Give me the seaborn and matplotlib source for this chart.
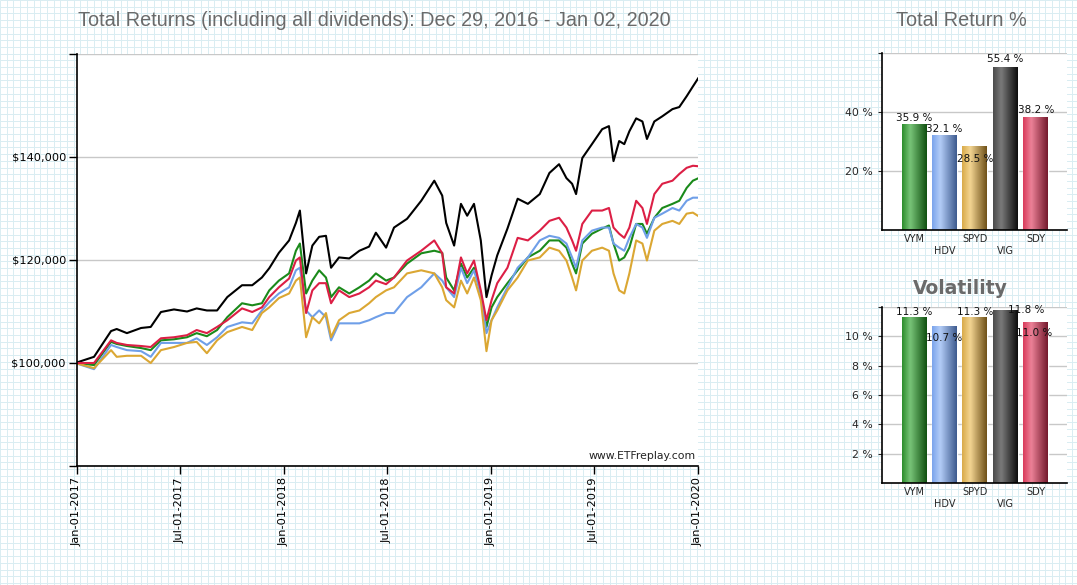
import numpy as np
import pandas as pd
import matplotlib
matplotlib.use("Agg")
import matplotlib.pyplot as plt
from matplotlib.colors import LinearSegmentedColormap, to_rgb
from matplotlib.patches import Rectangle
import seaborn as sns

# ---- data ----
tickers = ["VYM", "HDV", "SPYD", "VIG", "SDY"]

dates = [
    "2016-12-29", "2017-01-31", "2017-03-02", "2017-03-12", "2017-03-30", "2017-04-24",
    "2017-05-11", "2017-05-29", "2017-06-21", "2017-07-14", "2017-07-31", "2017-08-18",
    "2017-09-05", "2017-09-23", "2017-10-19", "2017-11-06", "2017-11-23", "2017-12-06",
    "2017-12-23", "2018-01-10", "2018-01-22", "2018-01-29", "2018-02-09", "2018-02-20",
    "2018-03-04", "2018-03-16", "2018-03-25", "2018-04-08", "2018-04-26", "2018-05-14",
    "2018-05-31", "2018-06-12", "2018-06-30", "2018-07-14", "2018-08-06", "2018-08-31",
    "2018-09-23", "2018-10-07", "2018-10-14", "2018-10-28", "2018-11-09", "2018-11-20",
    "2018-12-02", "2018-12-14", "2018-12-24", "2019-01-02", "2019-01-12", "2019-01-30",
    "2019-02-17", "2019-03-07", "2019-03-28", "2019-04-14", "2019-05-01", "2019-05-14",
    "2019-05-24", "2019-05-31", "2019-06-11", "2019-06-28", "2019-07-16", "2019-07-28",
    "2019-08-05", "2019-08-15", "2019-08-24", "2019-09-02", "2019-09-14", "2019-09-25",
    "2019-10-03", "2019-10-16", "2019-10-30", "2019-11-17", "2019-11-29", "2019-12-12",
    "2019-12-23", "2020-01-02",
]

# portfolio value in $ thousands
vym = [
    100.0, 99.6, 104.1, 103.7, 103.3, 102.9, 102.5, 104.4, 104.6, 105.0, 105.8, 105.2,
    106.4, 108.9, 111.6, 111.2, 111.6, 114.1, 116.0, 117.4, 121.8, 123.2, 113.5, 116.0,
    118.0, 116.6, 112.8, 114.7, 113.5, 114.7, 116.0, 117.4, 116.0, 116.6, 119.3, 121.3,
    121.8, 121.4, 116.6, 114.1, 119.3, 116.6, 118.5, 113.5, 107.0, 110.8, 112.8, 115.5,
    118.0, 120.5, 121.8, 123.8, 123.8, 122.4, 119.3, 117.4, 123.2, 125.1, 126.1, 126.7,
    123.2, 119.9, 120.5, 122.4, 127.0, 127.0, 125.1, 128.2, 130.1, 130.9, 131.5, 134.0,
    135.4, 135.9,
]
hdv = [
    100.0, 98.8, 103.5, 103.1, 102.5, 102.3, 101.2, 103.9, 103.9, 103.9, 104.8, 103.5,
    105.0, 107.0, 107.9, 107.7, 110.2, 111.8, 113.5, 114.7, 118.0, 118.5, 110.2, 108.9,
    110.2, 108.9, 104.4, 107.7, 107.7, 107.7, 108.3, 108.9, 109.7, 109.7, 112.8, 114.7,
    117.4, 116.0, 114.7, 112.8, 118.5, 115.5, 118.0, 113.5, 105.8, 108.3, 110.8, 114.7,
    118.5, 120.5, 123.8, 124.7, 124.3, 123.2, 120.5, 118.5, 123.8, 125.7, 126.3, 126.3,
    123.2, 122.4, 121.8, 124.3, 127.0, 126.3, 124.3, 128.2, 129.0, 130.1, 129.6, 131.5,
    132.1, 132.1,
]
spyd = [
    100.0, 99.0, 102.5, 101.2, 101.4, 101.4, 100.0, 102.5, 103.1, 103.9, 104.1, 101.9,
    104.4, 106.0, 107.0, 106.4, 109.7, 110.8, 112.6, 113.5, 116.0, 116.6, 105.0, 108.9,
    107.7, 109.7, 105.0, 108.3, 109.7, 110.2, 111.6, 112.8, 114.1, 114.7, 117.4, 118.0,
    117.4, 114.7, 112.2, 110.8, 116.0, 113.5, 116.6, 112.2, 102.3, 108.3, 110.2, 114.1,
    116.6, 119.9, 120.5, 122.4, 121.8, 119.9, 116.6, 114.1, 119.9, 121.8, 122.4, 121.8,
    117.4, 114.1, 113.5, 117.4, 123.8, 123.2, 119.9, 125.7, 127.0, 127.6, 127.0, 129.0,
    129.2, 128.5,
]
vig = [
    100.0, 101.2, 106.2, 106.6, 105.8, 106.8, 107.0, 109.9, 110.4, 110.0, 110.6, 110.2,
    110.2, 112.8, 115.1, 115.1, 116.6, 118.4, 121.4, 123.8, 127.2, 129.6, 117.4, 122.8,
    124.5, 124.7, 118.5, 120.5, 120.3, 121.8, 122.6, 125.3, 122.4, 126.3, 128.0, 131.5,
    135.4, 132.5, 127.2, 122.8, 130.9, 128.6, 130.9, 123.8, 112.8, 117.0, 120.9, 126.1,
    131.9, 130.9, 132.8, 136.9, 138.6, 135.9, 134.8, 132.8, 139.8, 142.5, 145.4, 146.0,
    139.2, 143.1, 142.5, 145.0, 147.5, 146.9, 143.5, 146.9, 147.9, 149.3, 149.7, 151.8,
    153.7, 155.4,
]
sdy = [
    100.0, 100.0, 104.4, 103.9, 103.5, 103.3, 103.1, 104.8, 105.0, 105.4, 106.4, 105.8,
    107.0, 108.3, 110.6, 109.9, 110.8, 112.8, 114.7, 116.4, 119.9, 120.5, 109.7, 114.1,
    115.5, 115.5, 111.6, 114.1, 112.8, 113.5, 114.7, 116.0, 115.3, 116.6, 119.9, 121.8,
    123.8, 121.3, 114.7, 113.5, 120.5, 117.4, 119.9, 114.1, 108.3, 112.2, 115.5, 118.5,
    124.3, 123.8, 125.7, 127.6, 128.2, 126.3, 123.8, 121.8, 127.0, 129.6, 129.6, 130.1,
    126.3, 125.1, 124.3, 126.3, 131.5, 130.1, 127.0, 132.8, 134.8, 135.4, 136.7, 137.9,
    138.3, 138.2,
]

total_return = [35.9, 32.1, 28.5, 55.4, 38.2]
volatility = [11.3, 10.7, 11.3, 11.8, 11.0]

date_ticks = ["2017-01-01", "2017-07-01", "2018-01-01", "2018-07-01",
              "2019-01-01", "2019-07-01", "2020-01-01"]

# ---- styling ----
sns.set_style("white")
plt.rcParams["font.family"] = ["DejaVu Sans"]

line_colors = {"VYM": "#1a8a1a", "HDV": "#6f9fe8", "SPYD": "#dba733",
               "VIG": "#000000", "SDY": "#dc1f45"}
# (dark-left, highlight, dark-right) for the cylinder look of the bars
bar_shades = {
    "VYM": ("#2b8c2b", "#78c478", "#105010"),
    "HDV": ("#7aa3ec", "#b3cdf7", "#3d5a8e"),
    "SPYD": ("#d9aa48", "#f3d592", "#6e5018"),
    "VIG": ("#4a4a4a", "#7a7a7a", "#0c0c0c"),
    "SDY": ("#d93a5a", "#ec8298", "#74192c"),
}
title_gray = "#6a6a6a"
title_fonts = ["Liberation Sans", "DejaVu Sans"]

W, H = 1077, 585
fig = plt.figure(figsize=(W / 100, H / 100), dpi=100)


def fx(px):
    return px / W


def fy(px):
    return 1 - px / H


# graph-paper background
bg = fig.add_axes([0, 0, 1, 1], zorder=-10)
bg.set_xlim(0, W)
bg.set_ylim(H, 0)
bg.axis("off")
cell = 6.7
bg.vlines(np.arange(0, W, cell), 0, H, color="#d9edf2", lw=0.7)
bg.hlines(np.arange(0, H, cell), 0, W, color="#d9edf2", lw=0.7)
bg.add_patch(Rectangle((0, 42), 747, 530, facecolor="white", edgecolor="none"))
bg.add_patch(Rectangle((843, 42), 229, 500, facecolor="white", edgecolor="none"))

# ---- main line chart ----
df = pd.DataFrame({"Date": pd.to_datetime(dates)})
for t, vals in zip(tickers, [vym, hdv, spyd, vig, sdy]):
    df[t] = np.array(vals) * 1000
long = df.melt(id_vars="Date", var_name="Ticker", value_name="Value")

ax = fig.add_axes([fx(77), fy(466), fx(621), 412 / H])
sns.lineplot(data=long, x="Date", y="Value", hue="Ticker", hue_order=tickers,
             palette=line_colors, linewidth=1.5, legend=False, ax=ax)
ax.set_xlim(pd.Timestamp("2017-01-01"), pd.Timestamp("2020-01-01"))
ax.set_ylim(80000, 160000)
ax.set_yticks([80000, 100000, 120000, 140000, 160000])
ax.set_yticklabels(["", "$100,000", "$120,000", "$140,000", ""])
ax.yaxis.grid(True, color="#c8c8c8", lw=1)
ax.xaxis.grid(False)
tick_dates = pd.to_datetime(date_ticks)
ax.set_xticks(tick_dates)
ax.set_xticklabels([d.strftime("%b-%d-%Y") for d in tick_dates], rotation=90)
ax.tick_params(axis="both", direction="out", length=6, width=1, color="black",
               labelsize=8.2, colors="black", left=True, bottom=True, pad=2)
for s in ["top", "right"]:
    ax.spines[s].set_visible(False)
for s in ["left", "bottom"]:
    ax.spines[s].set_color("black")
    ax.spines[s].set_linewidth(1.2)
ax.set_xlabel("")
ax.set_ylabel("")
ax.set_facecolor("white")
ax.text(0.997, 0.012, "www.ETFreplay.com", transform=ax.transAxes, ha="right",
        va="bottom", fontsize=7.8, color="#222222")

fig.text(fx(374), fy(20), "Total Returns (including all dividends): Dec 29, 2016 - Jan 02, 2020",
         ha="center", va="center", fontsize=14.3, color=title_gray, family=title_fonts)
fig.text(fx(961), fy(20), "Total Return %", ha="center", va="center", fontsize=14.3,
         color=title_gray, family=title_fonts)
fig.text(fx(960), fy(289), "Volatility", ha="center", va="center", fontsize=13.5,
         fontweight="bold", color=title_gray)


def shade_bars(bax, top):
    for patch, t in zip(bax.patches, tickers):
        x0, y0 = patch.get_x(), patch.get_y()
        w, h = patch.get_width(), patch.get_height()
        dark, light, deep = bar_shades[t]
        cmap = LinearSegmentedColormap.from_list(
            t, [(0, to_rgb(dark)), (0.33, to_rgb(light)), (1, to_rgb(deep))])
        grad = np.linspace(0, 1, 128).reshape(1, -1)
        im = bax.imshow(grad, cmap=cmap, aspect="auto", extent=[x0, x0 + w, y0, y0 + h],
                        zorder=patch.get_zorder() + 0.1, interpolation="bicubic")
        im.set_clip_path(patch)
    bax.set_xlim(-1.05, 5.02)
    bax.set_ylim(0, top)


def bar_panel(rect, values, top, yticks, ylabels, offsets):
    bax = fig.add_axes(rect)
    sns.barplot(x=tickers, y=values, hue=tickers, palette=line_colors, width=0.82,
                legend=False, ax=bax, saturation=1)
    shade_bars(bax, top)
    bax.set_yticks(yticks)
    bax.set_yticklabels(ylabels)
    bax.yaxis.grid(True, color="#c8c8c8", lw=1)
    bax.set_axisbelow(True)
    bax.set_xticks(range(len(tickers)))
    bax.set_xticklabels([t if i % 2 == 0 else "\n" + t for i, t in enumerate(tickers)])
    bax.tick_params(axis="x", length=0, labelsize=7, pad=3)
    bax.tick_params(axis="y", length=3, direction="out", labelsize=7.8, left=True)
    for s in ["top", "right"]:
        bax.spines[s].set_visible(False)
    for s in ["left", "bottom"]:
        bax.spines[s].set_color("black")
        bax.spines[s].set_linewidth(1.2)
    bax.set_facecolor("white")
    for i, (v, (dx, dy)) in enumerate(zip(values, offsets)):
        bax.annotate(f"{v:.1f} %", (i, v), xytext=(dx, dy), textcoords="offset points",
                     ha="center", va="bottom", fontsize=7.5, color="#111111", zorder=5)
    return bax


bar_panel([fx(882), fy(230), fx(185), 177 / H], total_return, 60,
          [20, 40, 60], ["20 %", "40 %", ""],
          [(0, 1), (0, 1), (0, -13), (0, 2), (0, 2)])
bar_panel([fx(882), fy(483), fx(185), 176 / H], volatility, 12,
          [2, 4, 6, 8, 10, 12], ["2 %", "4 %", "6 %", "8 %", "10 %", ""],
          [(0, 0), (0, -12), (0, 0), (15, -4), (-1, -12)])

fig.savefig("out.png", dpi=100, facecolor="white")
